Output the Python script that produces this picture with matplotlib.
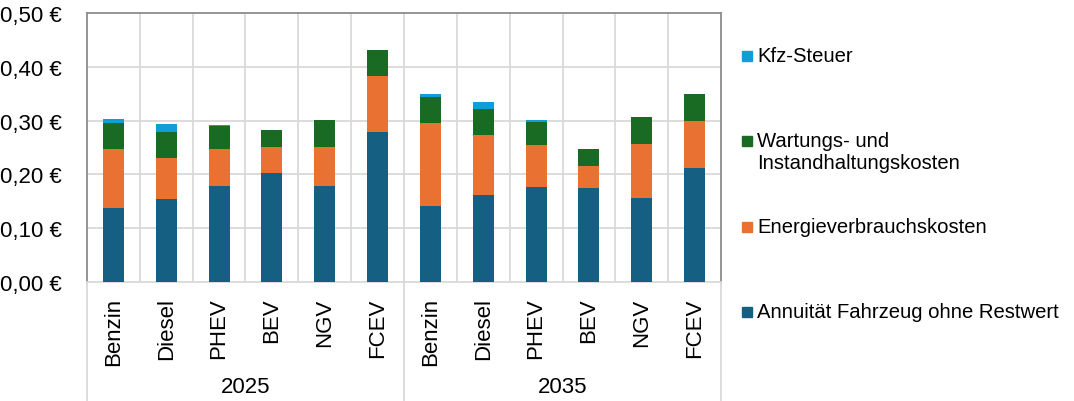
import numpy as np
import matplotlib
matplotlib.use('Agg')
import matplotlib.pyplot as plt
from matplotlib.patches import Rectangle

plt.rcParams['font.family'] = ['Liberation Sans', 'DejaVu Sans']

# Daten (EUR pro km)
jahre = ['2025', '2035']
antriebe = ['Benzin', 'Diesel', 'PHEV', 'BEV', 'NGV', 'FCEV']
kategorien = antriebe * 2

annuitaet = [0.137, 0.154, 0.179, 0.203, 0.179, 0.279,
             0.142, 0.162, 0.176, 0.174, 0.156, 0.211]
energie = [0.110, 0.076, 0.068, 0.048, 0.072, 0.103,
           0.153, 0.111, 0.079, 0.042, 0.100, 0.088]
wartung = [0.049, 0.049, 0.043, 0.032, 0.050, 0.050,
           0.048, 0.048, 0.043, 0.032, 0.050, 0.050]
kfz_steuer = [0.007, 0.015, 0.002, 0.000, 0.000, 0.000,
              0.007, 0.014, 0.003, 0.000, 0.000, 0.000]

serien = [
    ('Annuität Fahrzeug ohne Restwert', annuitaet, '#156082'),
    ('Energieverbrauchskosten', energie, '#E97132'),
    ('Wartungs- und\nInstandhaltungskosten', wartung, '#196B24'),
    ('Kfz-Steuer', kfz_steuer, '#0F9ED5'),
]

W, H = 1074, 402
fig = plt.figure(figsize=(W / 100, H / 100), dpi=100)
ax = fig.add_axes([87 / W, (H - 283) / H, (721 - 87) / W, (283 - 14) / H])

x = np.arange(len(kategorien))
unten = np.zeros(len(kategorien))
for name, werte, farbe in serien:
    ax.bar(x, werte, width=0.4, bottom=unten, color=farbe, zorder=3)
    unten += np.array(werte)

ax.set_xlim(-0.5, len(kategorien) - 0.5)
ax.set_ylim(0, 0.5)
ax.set_yticks(np.arange(0, 0.51, 0.1))
ax.set_yticklabels([f'{v:.2f} €'.replace('.', ',') for v in np.arange(0, 0.51, 0.1)])
ax.set_xticks(x)
ax.set_xticklabels(kategorien, rotation=90, va='top')
ax.tick_params(axis='both', length=0, labelsize=16, colors='black')
ax.tick_params(axis='x', pad=11)
ax.tick_params(axis='y', pad=18)

# Gitter
for yv in np.arange(0.1, 0.5, 0.1):
    ax.axhline(yv, color='#d9d9d9', lw=1.3, zorder=1)
for xv in np.arange(0.5, len(kategorien) - 1, 1):
    ax.axvline(xv, color='#d9d9d9', lw=1.3, zorder=1)

for s in ['top', 'left', 'right']:
    ax.spines[s].set_color('#8c8c8c')
    ax.spines[s].set_linewidth(1.3)
ax.spines['bottom'].set_color('#d9d9d9')
ax.spines['bottom'].set_linewidth(1.3)

# Gruppenachse
for xa in [0, 0.5, 1]:
    ax.plot([xa, xa], [0, -0.44], transform=ax.transAxes, color='#d9d9d9',
            lw=1.3, clip_on=False)
for i, jahr in enumerate(jahre):
    ax.text(0.25 + 0.5 * i, -0.39, jahr, transform=ax.transAxes,
            ha='center', va='center', fontsize=16)

# Legende
leg_y = [57, 142, 228, 313]
for (name, werte, farbe), yy in zip(reversed(serien), leg_y):
    fig.add_artist(Rectangle((742 / W, (H - yy - 5) / H), 10 / W, 10 / H,
                             transform=fig.transFigure, color=farbe))
    fig.text(757 / W, (H - yy + 10) / H, name, ha='left', va='top',
             fontsize=14.6, linespacing=1.2)

fig.savefig('out.png', dpi=100)
